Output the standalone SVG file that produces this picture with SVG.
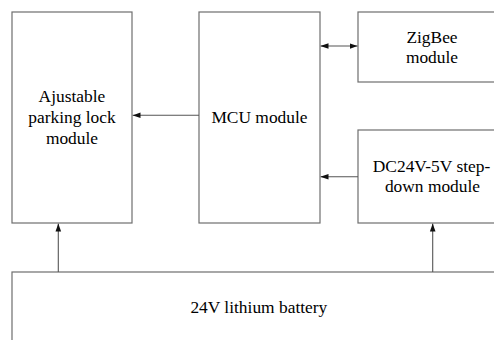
<svg xmlns="http://www.w3.org/2000/svg" width="494" height="340" viewBox="0 0 494 340">
<defs>
<marker id="ah" viewBox="0 0 10 10" refX="10" refY="5" markerWidth="8" markerHeight="8" markerUnits="userSpaceOnUse" orient="auto-start-reverse">
<path d="M0,1.5 L10,5 L0,8.5 Z" fill="#111"/>
</marker>
</defs>
<rect width="494" height="340" fill="#fff"/>
<g id="lock">
<rect x="12" y="12" width="120" height="211" fill="#fff" stroke="#6e6e6e" stroke-width="1.2"/>
<text x="38.6" y="102" font-size="17.4" font-family="Liberation Serif">Ajustable</text>
<text x="28.3" y="123" font-size="17.4" font-family="Liberation Serif">parking lock</text>
<text x="45.9" y="143.5" font-size="17.4" font-family="Liberation Serif">module</text>
</g>
<g id="mcu">
<rect x="199" y="12" width="121" height="211" fill="#fff" stroke="#6e6e6e" stroke-width="1.2"/>
<text x="211.4" y="123" font-size="17.4" font-family="Liberation Serif">MCU module</text>
</g>
<g id="zigbee">
<rect x="358" y="12" width="150" height="70" fill="#fff" stroke="#6e6e6e" stroke-width="1.2"/>
<text x="406.4" y="43.3" font-size="17.4" font-family="Liberation Serif">ZigBee</text>
<text x="405.9" y="63.3" font-size="17.4" font-family="Liberation Serif">module</text>
</g>
<g id="stepdown">
<rect x="358" y="130" width="150" height="93" fill="#fff" stroke="#6e6e6e" stroke-width="1.2"/>
<text x="372.8" y="172" font-size="17.4" font-family="Liberation Serif">DC24V-5V step-</text>
<text x="384.9" y="192.3" font-size="17.4" font-family="Liberation Serif">down module</text>
</g>
<g id="battery">
<rect x="12" y="272" width="500" height="100" fill="#fff" stroke="#6e6e6e" stroke-width="1.2"/>
<text x="190.4" y="313.3" font-size="17.4" font-family="Liberation Serif">24V lithium battery</text>
</g>
<g id="connectors" stroke="#555" stroke-width="1.1" fill="none">
<line x1="199" y1="115.3" x2="132.5" y2="115.3" marker-end="url(#ah)"/>
<line x1="320.5" y1="46" x2="357.5" y2="46" marker-start="url(#ah)" marker-end="url(#ah)"/>
<line x1="358" y1="176.7" x2="320.5" y2="176.7" marker-end="url(#ah)"/>
<line x1="58.3" y1="272" x2="58.3" y2="223.5" marker-end="url(#ah)"/>
<line x1="432.7" y1="272" x2="432.7" y2="223.5" marker-end="url(#ah)"/>
</g>
</svg>
